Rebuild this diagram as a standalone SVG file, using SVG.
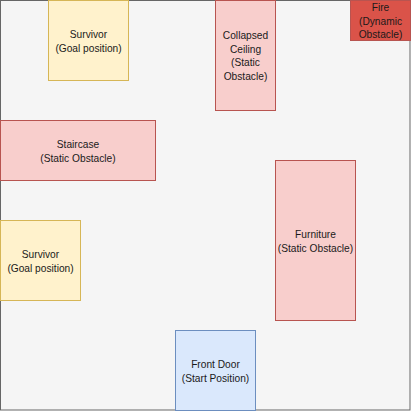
<svg xmlns="http://www.w3.org/2000/svg" width="411" height="411" viewBox="0 0 411 411">
<style>
text{font-family:"Liberation Sans",Arial,sans-serif;font-size:10.2px;fill:#1a1a1a;text-anchor:middle}
.goal{fill:#fff2cc;stroke:#d6b656}
.stat{fill:#f8cecc;stroke:#b85450}
.dyn{fill:#da5349;stroke:#b85450}
.start{fill:#dae8fc;stroke:#6c8ebf}
</style>
<rect x="0.5" y="0.5" width="409.5" height="409.5" fill="#f5f5f5" stroke="#666666"/>
<g id="survivor1"><rect class="goal" x="48.5" y="0.5" width="80" height="80"/><text x="88.5" y="37.5">Survivor</text><text x="88.5" y="52">(Goal position)</text></g>
<g id="ceiling"><rect class="stat" x="215.5" y="0.5" width="60" height="110"/><text x="245.5" y="39">Collapsed</text><text x="245.5" y="52.5">Ceiling</text><text x="245.5" y="66">(Static</text><text x="245.5" y="79.5">Obstacle)</text></g>
<g id="fire"><rect class="dyn" x="350.5" y="0.5" width="60" height="40"/><text x="380.5" y="11">Fire</text><text x="380.5" y="24.5">(Dynamic</text><text x="380.5" y="37.5">Obstacle)</text></g>
<g id="staircase"><rect class="stat" x="0.5" y="120.5" width="155" height="60"/><text x="78" y="148">Staircase</text><text x="78" y="162">(Static Obstacle)</text></g>
<g id="survivor2"><rect class="goal" x="0.5" y="220.5" width="80" height="80"/><text x="40.5" y="257.5">Survivor</text><text x="40.5" y="272">(Goal position)</text></g>
<g id="furniture"><rect class="stat" x="275.5" y="160.5" width="80" height="160"/><text x="315.5" y="237.5">Furniture</text><text x="315.5" y="252">(Static Obstacle)</text></g>
<g id="frontdoor"><rect class="start" x="175.5" y="330.5" width="80" height="80"/><text x="215.5" y="367.5">Front Door</text><text x="215.5" y="381.5">(Start Position)</text></g>
<g id="connectors"></g>
</svg>
